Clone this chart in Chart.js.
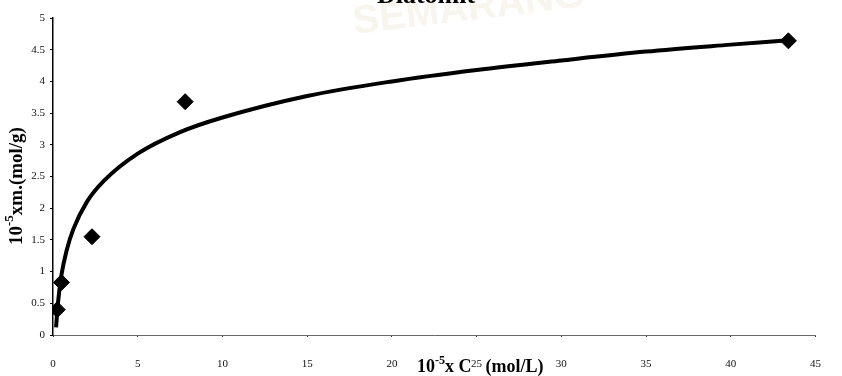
<!DOCTYPE html>
<html>
<head>
<meta charset="utf-8">
<title>Diatomit</title>
<script src="https://cdn.jsdelivr.net/npm/chart.js@4.4.1/dist/chart.umd.min.js"></script>
<style>
    body { margin: 0; background: #fff; }
    #wrap { width: 842px; height: 376px; position: relative; }
</style>
</head>
<body>
<div id="wrap"><canvas id="isoChart"></canvas></div>
<script>
// Measured points (10^-5 x C, 10^-5 x m)
const pointX = [0.25, 0.5, 2.3, 7.8, 43.4];
const pointY = [0.4, 0.83, 1.55, 3.68, 4.64];

// Trend curve
const trendX = [0.18, 0.3, 0.5, 0.8, 1.2, 2, 3, 5, 7.5, 10, 15, 20, 25, 30, 35, 40, 43.4];
const trendY = [0.12, 0.52, 0.95, 1.33, 1.67, 2.1, 2.43, 2.86, 3.2, 3.43, 3.77, 4.0, 4.18, 4.33, 4.47, 4.58, 4.65];

const xTicks = [0, 5, 10, 15, 20, 25, 30, 35, 40, 45];
const yTicks = [0, 0.5, 1, 1.5, 2, 2.5, 3, 3.5, 4, 4.5, 5];

const serif = "'Liberation Serif', 'DejaVu Serif', serif";
let isoChart;

// Title, watermark and axis titles with superscripts
const labelsPlugin = {
    id: 'labels',
    beforeDraw(chart) {
        const ctx = chart.ctx;
        ctx.save();
        ctx.fillStyle = '#f8f5ee';
        ctx.font = 'bold 40px ' + "'Liberation Sans', sans-serif";
        ctx.textAlign = 'center';
        ctx.textBaseline = 'alphabetic';
        ctx.translate(470, 20);
        ctx.rotate(-0.12);
        ctx.fillText('SEMARANG', 0, 0);
        ctx.restore();
    },
    afterDraw(chart) {
        const ctx = chart.ctx;
        ctx.save();
        ctx.fillStyle = '#000';
        ctx.textBaseline = 'alphabetic';

        // clipped title at the top edge
        ctx.font = 'bold 26px ' + serif;
        ctx.textAlign = 'center';
        ctx.fillText('Diatomit', 426, 3);

        // x axis title
        ctx.textAlign = 'left';
        let x = 417;
        const base = 372;
        ctx.font = 'bold 18px ' + serif;
        ctx.fillText('10', x, base);
        x += ctx.measureText('10').width;
        ctx.font = 'bold 12px ' + serif;
        ctx.fillText('-5', x, base - 8);
        x += ctx.measureText('-5').width;
        ctx.font = 'bold 18px ' + serif;
        ctx.fillText('x C', x, base);
        x += ctx.measureText('x C').width + 14;
        ctx.fillText('(mol/L)', x, base);

        // y axis title, rotated
        ctx.translate(22, 245);
        ctx.rotate(-Math.PI / 2);
        x = 0;
        ctx.font = 'bold 19px ' + serif;
        ctx.fillText('10', x, 0);
        x += ctx.measureText('10').width;
        ctx.font = 'bold 13px ' + serif;
        ctx.fillText('-5', x, -9);
        x += ctx.measureText('-5').width;
        ctx.font = 'bold 19px ' + serif;
        ctx.fillText('xm.(mol/g)', x, 0);
        ctx.restore();
    }
};

window.addEventListener('DOMContentLoaded', () => {
    initChart();
});

function initChart() {
    const ctx = document.getElementById('isoChart').getContext('2d');
    isoChart = new Chart(ctx, {
        type: 'scatter',
        data: {
            datasets: [
                {
                    label: 'trend',
                    data: trendX.map((v, i) => ({ x: v, y: trendY[i] })),
                    showLine: true,
                    borderColor: '#000',
                    borderWidth: 4,
                    pointRadius: 0,
                    cubicInterpolationMode: 'monotone',
                    order: 2
                },
                {
                    label: 'data',
                    data: pointX.map((v, i) => ({ x: v, y: pointY[i] })),
                    pointStyle: 'rectRot',
                    pointRadius: 8,
                    backgroundColor: '#000',
                    borderColor: '#000',
                    borderWidth: 1,
                    order: 1
                }
            ]
        },
        options: {
            responsive: true,
            maintainAspectRatio: false,
            animation: false,
            layout: { padding: { top: 18, right: 22, left: 0, bottom: 0 } },
            plugins: {
                legend: { display: false },
                tooltip: { enabled: false }
            },
            scales: {
                x: {
                    type: 'linear',
                    min: 0,
                    max: 45,
                    afterBuildTicks: s => { s.ticks = xTicks.map(v => ({ value: v })); },
                    afterFit: s => { s.height = 41; },
                    grid: { drawOnChartArea: false, drawTicks: true, tickLength: 2, color: '#333' },
                    border: { color: '#666', width: 1, dash: [1, 3] },
                    ticks: {
                        padding: 21,
                        color: '#111',
                        font: { family: serif, size: 11 },
                        callback: v => String(v)
                    }
                },
                y: {
                    min: 0,
                    max: 5,
                    afterBuildTicks: s => { s.ticks = yTicks.map(v => ({ value: v })); },
                    afterFit: s => { s.width = 53; },
                    grid: { drawOnChartArea: false, drawTicks: true, tickLength: 3, color: '#000' },
                    border: { color: '#000', width: 1.5 },
                    ticks: {
                        padding: 5,
                        color: '#111',
                        font: { family: serif, size: 11 },
                        callback: v => String(v)
                    }
                }
            }
        },
        plugins: [labelsPlugin]
    });
}
</script>
</body>
</html>
